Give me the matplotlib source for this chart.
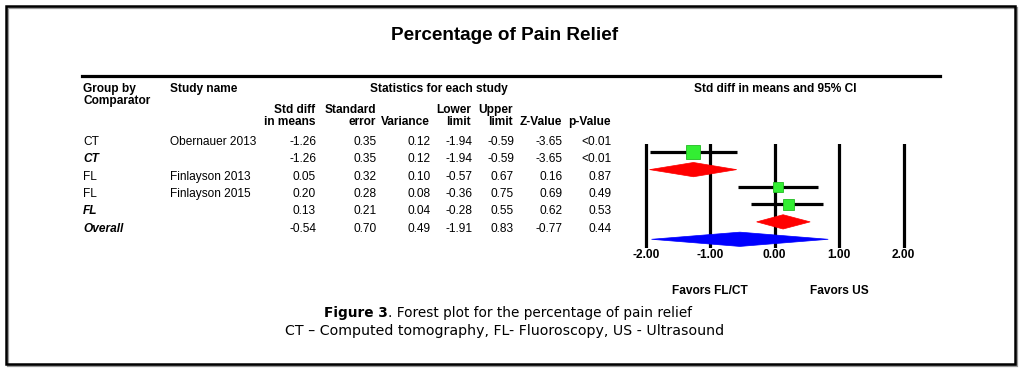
import matplotlib
matplotlib.use("Agg")
import matplotlib.pyplot as plt
from matplotlib.patches import Polygon, Rectangle
from matplotlib.lines import Line2D

# table data
groups = ["CT", "CT", "FL", "FL", "FL", "Overall"]
studies = ["Obernauer 2013", "", "Finlayson 2013", "Finlayson 2015", "", ""]
is_summary = [False, True, False, False, True, True]
std_diff = [-1.26, -1.26, 0.05, 0.20, 0.13, -0.54]
std_err = [0.35, 0.35, 0.32, 0.28, 0.21, 0.70]
variance = [0.12, 0.12, 0.10, 0.08, 0.04, 0.49]
lower = [-1.94, -1.94, -0.57, -0.36, -0.28, -1.91]
upper = [-0.59, -0.59, 0.67, 0.75, 0.55, 0.83]
z_value = [-3.65, -3.65, 0.16, 0.69, 0.62, -0.77]
p_value = ["<0.01", "<0.01", "0.87", "0.49", "0.53", "0.44"]
ticks = [-2, -1, 0, 1, 2]

W, H = 1024, 371
FONT = "Liberation Sans"
FS = 8.6

fig = plt.figure(figsize=(W / 100, H / 100), dpi=100)


def fx(x):
    return x / W


def fy(y):
    return 1 - y / H


def txt(x, y, s, **kw):
    kw.setdefault("family", FONT)
    kw.setdefault("fontsize", FS)
    kw.setdefault("va", "center")
    fig.text(fx(x), fy(y), s, **kw)


# outer frame (with a light shadow)
fig.add_artist(Rectangle((fx(7.5), fy(365.5)), fx(1015) - fx(6), fy(6) - fy(364),
                         transform=fig.transFigure, fill=False, lw=1.6, ec="#999999"))
fig.add_artist(Rectangle((fx(6), fy(364)), fx(1015) - fx(6), fy(6) - fy(364),
                         transform=fig.transFigure, fill=False, lw=1.8, ec="black"))

# title
txt(505, 35, "Percentage of Pain Relief", fontsize=13.6, weight="bold", ha="center")

# top rule
fig.add_artist(Line2D([fx(82), fx(940)], [fy(76), fy(76)], transform=fig.transFigure,
                      color="black", lw=2.3))

# headers
txt(83, 89, "Group by", weight="bold")
txt(83, 101, "Comparator", weight="bold")
txt(170, 89, "Study name", weight="bold")
txt(439, 89, "Statistics for each study", weight="bold", ha="center")
txt(775, 89, "Std diff in means and 95% CI", weight="bold", ha="center")

col_right = [315, 376, 430, 471, 513, 562, 611]
head_top = ["Std diff", "Standard", "", "Lower", "Upper", "", ""]
head_bot = ["in means", "error", "Variance", "limit", "limit", "Z-Value", "p-Value"]
for xr, a, b in zip(col_right, head_top, head_bot):
    if a:
        txt(xr, 110, a, weight="bold", ha="right")
    txt(xr, 122, b, weight="bold", ha="right")

# rows
row0, dy = 142, 17.3
for i in range(len(groups)):
    y = row0 + i * dy
    if is_summary[i]:
        txt(83, y, groups[i], weight="bold", style="italic")
    else:
        txt(83, y, groups[i])
    if studies[i]:
        txt(170, y, studies[i])
    vals = ["%.2f" % std_diff[i], "%.2f" % std_err[i], "%.2f" % variance[i],
            "%.2f" % lower[i], "%.2f" % upper[i], "%.2f" % z_value[i], p_value[i]]
    for xr, v in zip(col_right, vals):
        txt(xr + 1, y, v, ha="right")

# forest plot axes: -2..2 -> px 646..904
unit = 64.5
x0 = 774.7
left_px = x0 - 2.5 * unit
top_px, bot_px = 143.5, 248
ax = fig.add_axes([fx(left_px), fy(bot_px), 5 * unit / W, (bot_px - top_px) / H])
ax.set_xlim(-2.5, 2.5)
ax.set_ylim(len(groups) - 0.5, -0.5)
for s in ax.spines.values():
    s.set_visible(False)
ax.set_yticks([])
ax.set_xticks(ticks)
ax.set_xticklabels(["%.2f" % t for t in ticks], fontweight="bold", family=FONT, fontsize=FS)
ax.tick_params(axis="x", length=0, pad=1)
ax.patch.set_alpha(0)

for t in ticks:
    ax.axvline(t, color="black", lw=2.3, zorder=1)

box_px = {0: 14, 2: 10, 3: 11}
half = 0.41
for i in range(len(groups)):
    if is_summary[i]:
        col = "#0000ff" if groups[i] == "Overall" else "#ff0000"
        ax.add_patch(Polygon([(lower[i], i), (std_diff[i], i - half), (upper[i], i),
                              (std_diff[i], i + half)], closed=True, fc=col, ec=col,
                             lw=0.5, zorder=3))
    else:
        ax.plot([lower[i], upper[i]], [i, i], color="black", lw=2.3, zorder=2,
                solid_capstyle="butt")
        ax.plot(std_diff[i], i, marker="s", ms=box_px[i] * 0.72, mfc="#33ee33",
                mec="#22bb22", mew=0.6, zorder=4)

txt(710, 291, "Favors FL/CT", weight="bold", ha="center")
txt(839, 291, "Favors US", weight="bold", ha="center")

# caption
CAP = "DejaVu Sans"
txt(388, 313, "Figure 3", family=CAP, fontsize=9.8, weight="bold", ha="right")
txt(388, 313, ". Forest plot for the percentage of pain relief", family=CAP, fontsize=9.8)
txt(505, 331, "CT \u2013 Computed tomography, FL- Fluoroscopy, US - Ultrasound",
    family=CAP, fontsize=10.2, ha="center")

fig.savefig("out.png", dpi=100)
